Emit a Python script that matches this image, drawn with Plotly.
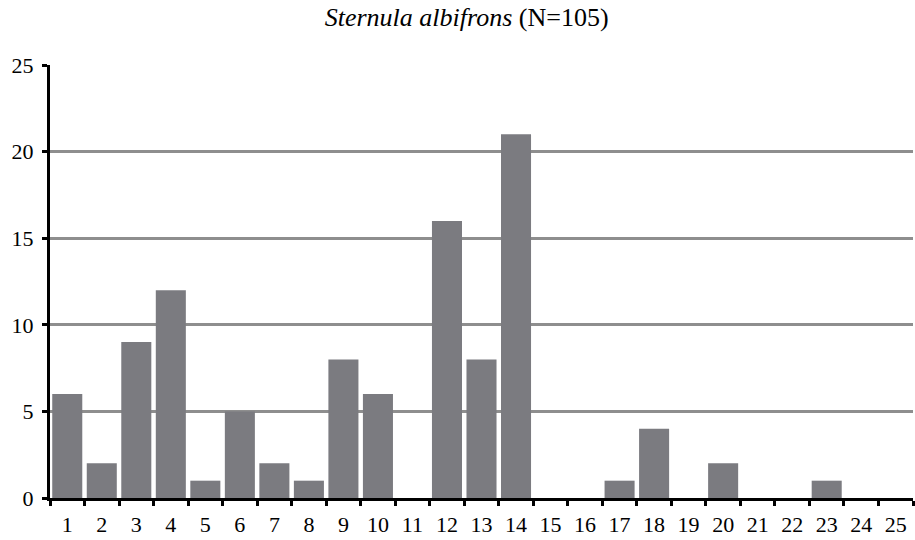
import plotly.graph_objects as go

categories = [str(i) for i in range(1, 26)]
counts = [6, 2, 9, 12, 1, 5, 2, 1, 8, 6, 0, 16, 8, 21, 0, 0, 1, 4, 0, 2, 0, 0, 1, 0, 0]
y_ticks = [0, 5, 10, 15, 20, 25]
title_text = "<i>Sternula albifrons</i> (N=105)"

font_family = "Liberation Serif"

fig = go.Figure(go.Bar(
    x=categories, y=counts,
    marker=dict(color="#7b7b80", line=dict(width=0)),
))

fig.update_layout(
    width=915, height=540,
    margin=dict(l=50, r=2, t=65, b=42),
    paper_bgcolor="white", plot_bgcolor="white",
    bargap=0.13,
    showlegend=False,
    font=dict(family=font_family, size=22, color="black"),
    title=dict(text=title_text, x=0.51, xanchor="center", y=0.968, yanchor="middle",
               font=dict(family=font_family, size=26, color="black")),
)

fig.update_xaxes(
    type="category", tickson="boundaries", tickangle=0, automargin=False,
    showline=True, linecolor="black", linewidth=3,
    ticks="outside", ticklen=5, tickwidth=3, tickcolor="black",
    showgrid=False, tickfont=dict(family=font_family, size=22), ticklabelstandoff=5,
)
fig.update_yaxes(
    range=[0, 25], tickvals=y_ticks, automargin=False,
    showline=True, linecolor="black", linewidth=3,
    ticks="outside", ticklen=5, tickwidth=3, tickcolor="black",
    showgrid=True, gridcolor="#8e8e8e", gridwidth=3,
    zeroline=False, tickfont=dict(family=font_family, size=22), ticklabelstandoff=4,
)

fig.write_html("out.html")
